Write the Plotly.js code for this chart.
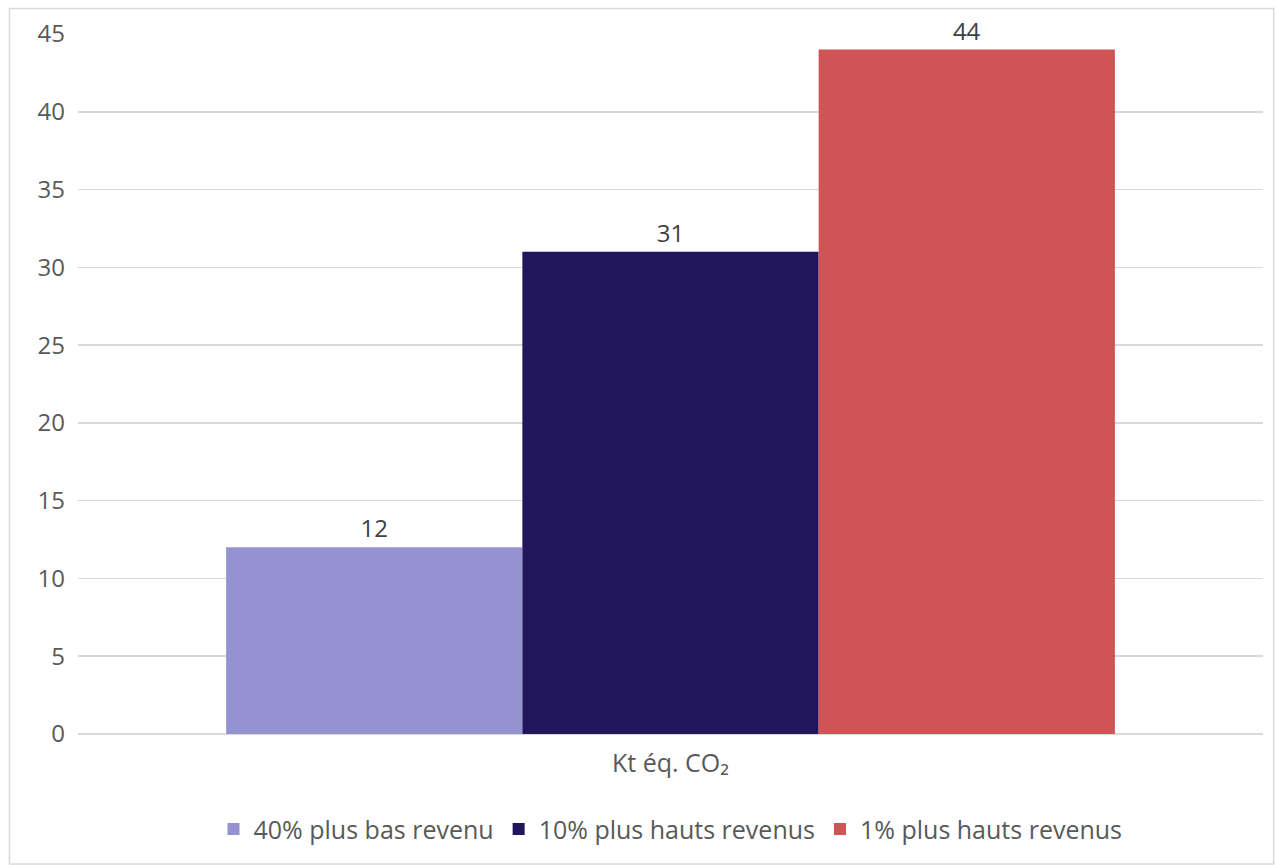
<!DOCTYPE html>
<html>
<head>
<meta charset="utf-8">
<script src="https://cdn.plot.ly/plotly-3.0.1.min.js"></script>
<style>
  html, body { margin: 0; padding: 0; background: #ffffff; }
  #chart { width: 1275px; height: 865px; }
</style>
</head>
<body>
<div id="chart"></div>
<script>
// Emissions par groupe de revenu (kt éq. CO2)
const category = ["Kt éq. CO₂"];
const seriesNames = ["40% plus bas revenu", "10% plus hauts revenus", "1% plus hauts revenus"];
const seriesValues = [12, 31, 44];
const seriesColors = ["#9592d2", "#21155c", "#d05356"];
const yTicks = [0, 5, 10, 15, 20, 25, 30, 35, 40, 45];

const FONT = "Open Sans, Noto Sans, DejaVu Sans, sans-serif";

const traces = seriesNames.map((name, i) => ({
  type: "bar",
  name: name,
  x: category,
  y: [seriesValues[i]],
  text: [String(seriesValues[i])],
  textposition: "outside",
  cliponaxis: false,
  textfont: { family: FONT, size: 24, color: "#404040" },
  marker: { color: seriesColors[i], line: { width: 0 } },
  hoverinfo: "skip"
}));

const layout = {
  width: 1275,
  height: 865,
  margin: { l: 78, r: 12, t: 34, b: 131 },
  paper_bgcolor: "#ffffff",
  plot_bgcolor: "#ffffff",
  font: { family: FONT, size: 24, color: "#595959" },
  barmode: "group",
  bargap: 0.25,
  bargroupgap: 0,
  showlegend: true,
  legend: {
    orientation: "h",
    x: 0.5, xanchor: "center",
    y: -0.136, yanchor: "middle",
    font: { family: FONT, size: 25, color: "#595959" },
    itemwidth: 30,
    tracegroupgap: 0
  },
  xaxis: {
    type: "category",
    showgrid: false,
    zeroline: false,
    showline: false,
    ticks: "",
    ticklabelstandoff: 12,
    tickfont: { family: FONT, size: 25, color: "#595959" }
  },
  yaxis: {
    range: [0, 45],
    tickvals: yTicks,
    ticktext: yTicks.map(String),
    showgrid: true,
    gridcolor: "#d9d9d9",
    gridwidth: 1.5,
    zeroline: true,
    zerolinecolor: "#d9d9d9",
    zerolinewidth: 1.5,
    showline: false,
    ticks: "",
    ticklabelstandoff: 12,
    tickfont: { family: FONT, size: 24, color: "#595959" }
  },
  shapes: [{
    type: "rect",
    xref: "paper", yref: "paper",
    x0: -0.0578, x1: 1.009,
    y0: -0.1857, y1: 1.0364,
    line: { color: "#d9d9d9", width: 1.5 },
    fillcolor: "rgba(0,0,0,0)",
    layer: "below"
  }]
};

Plotly.newPlot("chart", traces, layout, { displayModeBar: false, staticPlot: true });
</script>
</body>
</html>
